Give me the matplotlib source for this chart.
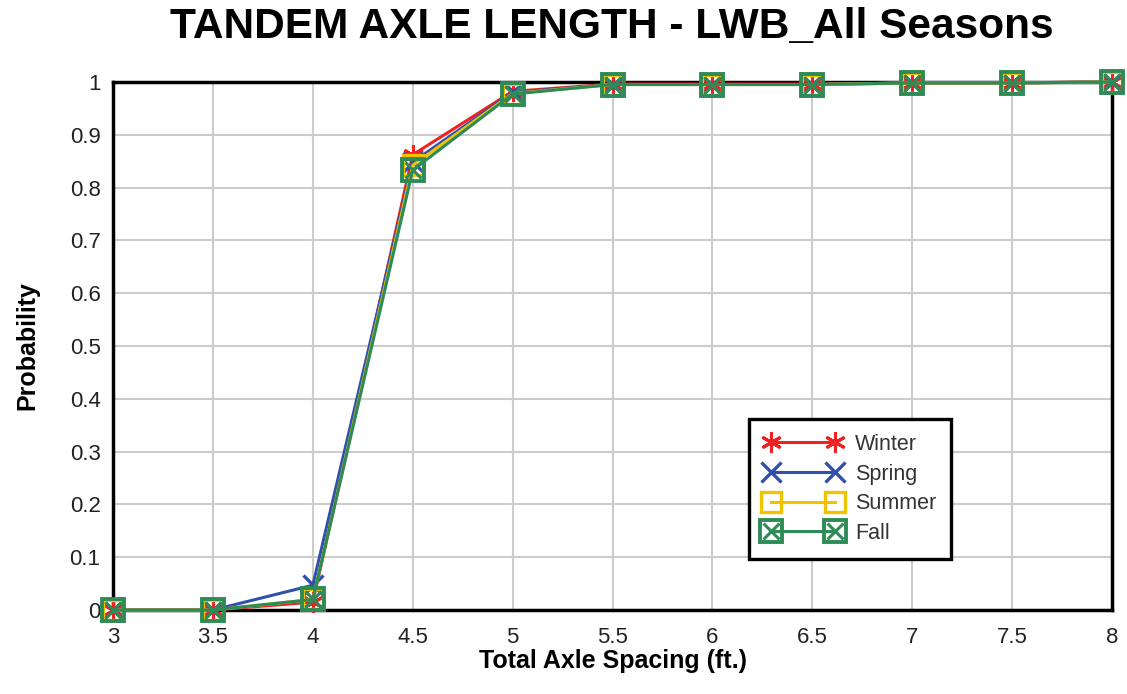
import numpy as np
import matplotlib.pyplot as plt
from matplotlib.lines import Line2D
from matplotlib.legend_handler import HandlerTuple

plt.rcParams['font.family'] = ['Liberation Sans', 'DejaVu Sans']

spacing = [3, 3.5, 4, 4.5, 5, 5.5, 6, 6.5, 7, 7.5, 8]
winter = [0, 0, 0.015, 0.862, 0.982, 0.996, 0.996, 0.996, 0.998, 0.998, 1]
spring = [0, 0, 0.047, 0.848, 0.980, 0.995, 0.995, 0.995, 0.998, 0.998, 1]
summer = [0, 0, 0.020, 0.842, 0.978, 0.995, 0.995, 0.995, 0.998, 0.998, 1]
fall = [0, 0, 0.020, 0.833, 0.977, 0.995, 0.995, 0.995, 0.998, 0.998, 1]

xticks = np.arange(3, 8.01, 0.5)
xticklabels = ['3', '3.5', '4', '4.5', '5', '5.5', '6', '6.5', '7', '7.5', '8']
yticks = np.arange(0, 1.01, 0.1)
yticklabels = ['0', '0.1', '0.2', '0.3', '0.4', '0.5', '0.6', '0.7', '0.8', '0.9', '1']

red, blue, yellow, green = '#ee2222', '#3050b0', '#f2c400', '#2e8b57'

fig = plt.figure(figsize=(11.27, 6.94), dpi=100)
ax = fig.add_axes([0.1003, 0.121, 0.8864, 0.761])

winter_style = dict(color=red, lw=2.2, marker=(6, 2, 0), ms=15, mew=2.2)
spring_style = dict(color=blue, lw=2.2, marker='x', ms=15, mew=2.4)
summer_style = dict(color=yellow, lw=2.2, marker='s', ms=15, mew=2.4, mfc='none')
fall_box_style = dict(color=green, lw=2.2, marker='s', ms=16, mew=2.8, mfc='none')
fall_cross_style = dict(color=green, lw=0, marker='x', ms=11, mew=2.2)

ax.plot(spacing, winter, clip_on=False, zorder=3, **winter_style)
ax.plot(spacing, spring, clip_on=False, zorder=3, **spring_style)
ax.plot(spacing, summer, clip_on=False, zorder=3, **summer_style)
ax.plot(spacing, fall, clip_on=False, zorder=3, **fall_box_style)
ax.plot(spacing, fall, clip_on=False, zorder=3, **fall_cross_style)

handles = [
    Line2D([], [], **winter_style),
    Line2D([], [], **spring_style),
    Line2D([], [], **summer_style),
    (Line2D([], [], **fall_box_style), Line2D([], [], **fall_cross_style)),
]
labels = ['Winter', 'Spring', 'Summer', 'Fall']

leg = ax.legend(handles, labels, loc='lower left', bbox_to_anchor=(0.637, 0.097),
                numpoints=2, handlelength=3.6, handletextpad=0.6, fontsize=15.5,
                fancybox=False, edgecolor='black', framealpha=1,
                borderpad=0.7, labelspacing=0.4, borderaxespad=0,
                handler_map={tuple: HandlerTuple(ndivide=1)})
leg.get_frame().set_linewidth(2.4)
for t in leg.get_texts():
    t.set_color('#333333')

ax.set_xlim(3, 8)
ax.set_ylim(0, 1)
ax.set_xticks(xticks)
ax.set_xticklabels(xticklabels)
ax.set_yticks(yticks)
ax.set_yticklabels(yticklabels)
ax.tick_params(length=0, labelsize=16, pad=9, colors='#222222')
ax.tick_params(axis='x', pad=12)
ax.grid(True, color='#cccccc', lw=1.5)
ax.set_axisbelow(True)
for s in ax.spines.values():
    s.set_linewidth(2.5)
    s.set_color('black')

ax.set_xlabel('Total Axle Spacing (ft.)', fontsize=18, fontweight='bold', labelpad=1)
ax.set_ylabel('Probability', fontsize=18, fontweight='bold', labelpad=22)
fig.suptitle('TANDEM AXLE LENGTH - LWB_All Seasons', fontsize=30.5, fontweight='bold',
             x=0.543, y=0.99)

fig.savefig('out.png', dpi=100)
